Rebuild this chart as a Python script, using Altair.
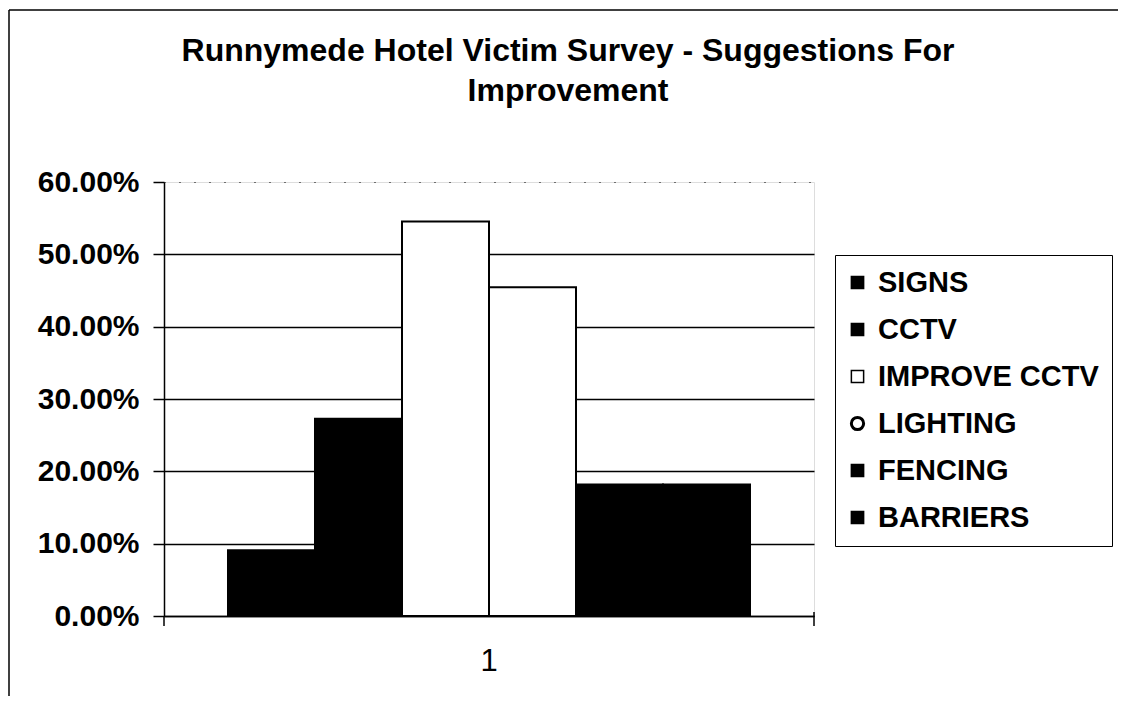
import altair as alt
import pandas as pd

# ---- data ----
series = ["SIGNS", "CCTV", "IMPROVE CCTV", "LIGHTING", "FENCING", "BARRIERS"]
values = [0.0909, 0.2727, 0.5455, 0.4545, 0.1818, 0.1818]
fills = ["black", "black", "white", "white", "black", "black"]
category = ["1"] * len(series)
y_ticks = [0.0, 0.1, 0.2, 0.3, 0.4, 0.5, 0.6]
title_lines = ["Runnymede Hotel Victim Survey - Suggestions For", "Improvement"]

df = pd.DataFrame({"cat": category, "series": series, "value": values})

FONT = "Liberation Sans"
W, H = 650, 434

bars = alt.Chart(df).mark_bar(stroke="black", strokeWidth=2).encode(
    x=alt.X(
        "cat:N",
        title=None,
        scale=alt.Scale(paddingOuter=0.1226, paddingInner=0),
        axis=alt.Axis(
            labelAngle=0, labelFont=FONT, labelFontSize=31, labelFontWeight="normal",
            labelColor="black", ticks=False, domain=True, domainColor="black",
            domainWidth=1.5, labelPadding=30, grid=False,
        ),
    ),
    xOffset=alt.XOffset("series:N", sort=series, scale=alt.Scale(paddingInner=0, paddingOuter=0)),
    y=alt.Y(
        "value:Q",
        title=None,
        scale=alt.Scale(domain=[0, 0.6], nice=False),
        axis=alt.Axis(
            values=y_ticks, format=".2%", labelFont=FONT, labelFontSize=30,
            labelFontWeight="bold", labelColor="black", tickColor="black",
            tickSize=11, tickWidth=1.5, labelPadding=14, domainColor="black",
            domainWidth=1.5, grid=True, gridColor="black",
            gridWidth=alt.condition("datum.value >= 0.59", alt.value(1), alt.value(1.5)),
            gridDash=alt.condition("datum.value >= 0.59", alt.value([1, 14]), alt.value([])),
        ),
    ),
    color=alt.Color(
        "series:N",
        sort=series,
        scale=alt.Scale(domain=series, range=fills),
        legend=alt.Legend(
            title=None, orient="none", legendX=671, legendY=73,
            labelFont=FONT, labelFontSize=29, labelFontWeight="bold", labelColor="black",
            labelLimit=400,
            symbolType={"expr": "datum.value == 'LIGHTING' ? 'circle' : 'square'"},
            symbolSize=150, symbolStrokeColor="black",
            symbolStrokeWidth={"expr": "datum.value == 'LIGHTING' ? 3 : 1.5"},
            symbolOffset=-5, labelOffset=6, rowPadding=17,
            padding=13, strokeColor="black", fillColor="white",
        ),
    ),
)

one = alt.Data(values=[{"k": 1}])

# small category-axis tick marks at both plot edges
left_tick = alt.Chart(one).mark_rule(color="black", strokeWidth=1.5).encode(
    x=alt.value(0), y=alt.value(H), y2=alt.value(H + 10)
)
right_tick = alt.Chart(one).mark_rule(color="black", strokeWidth=1.5).encode(
    x=alt.value(W), y=alt.value(H - 4), y2=alt.value(H + 10)
)

# outer chart-area border (top and left edges; the others fall outside the picture)
border_top = alt.Chart(one).mark_rule(color="black", strokeWidth=1.5).encode(
    x=alt.value(-155), x2=alt.value(1000), y=alt.value(-172)
)
border_left = alt.Chart(one).mark_rule(color="black", strokeWidth=1.5).encode(
    x=alt.value(-155), y=alt.value(-172), y2=alt.value(600)
)

chart = alt.layer(border_top, border_left, bars, left_tick, right_tick).properties(
    width=W,
    height=H,
    autosize=alt.AutoSizeParams(type="none"),
    padding={"left": 156, "top": 174, "right": 304, "bottom": 80},
    title=alt.Title(
        title_lines, font=FONT, fontSize=32, fontWeight="bold", color="black",
        lineHeight=40, anchor="middle", frame="group", dx=79, offset=-99,
    ),
).configure_view(stroke=None).configure(background="white")

chart.save("out.html", embed_options={"renderer": "svg", "actions": False})
